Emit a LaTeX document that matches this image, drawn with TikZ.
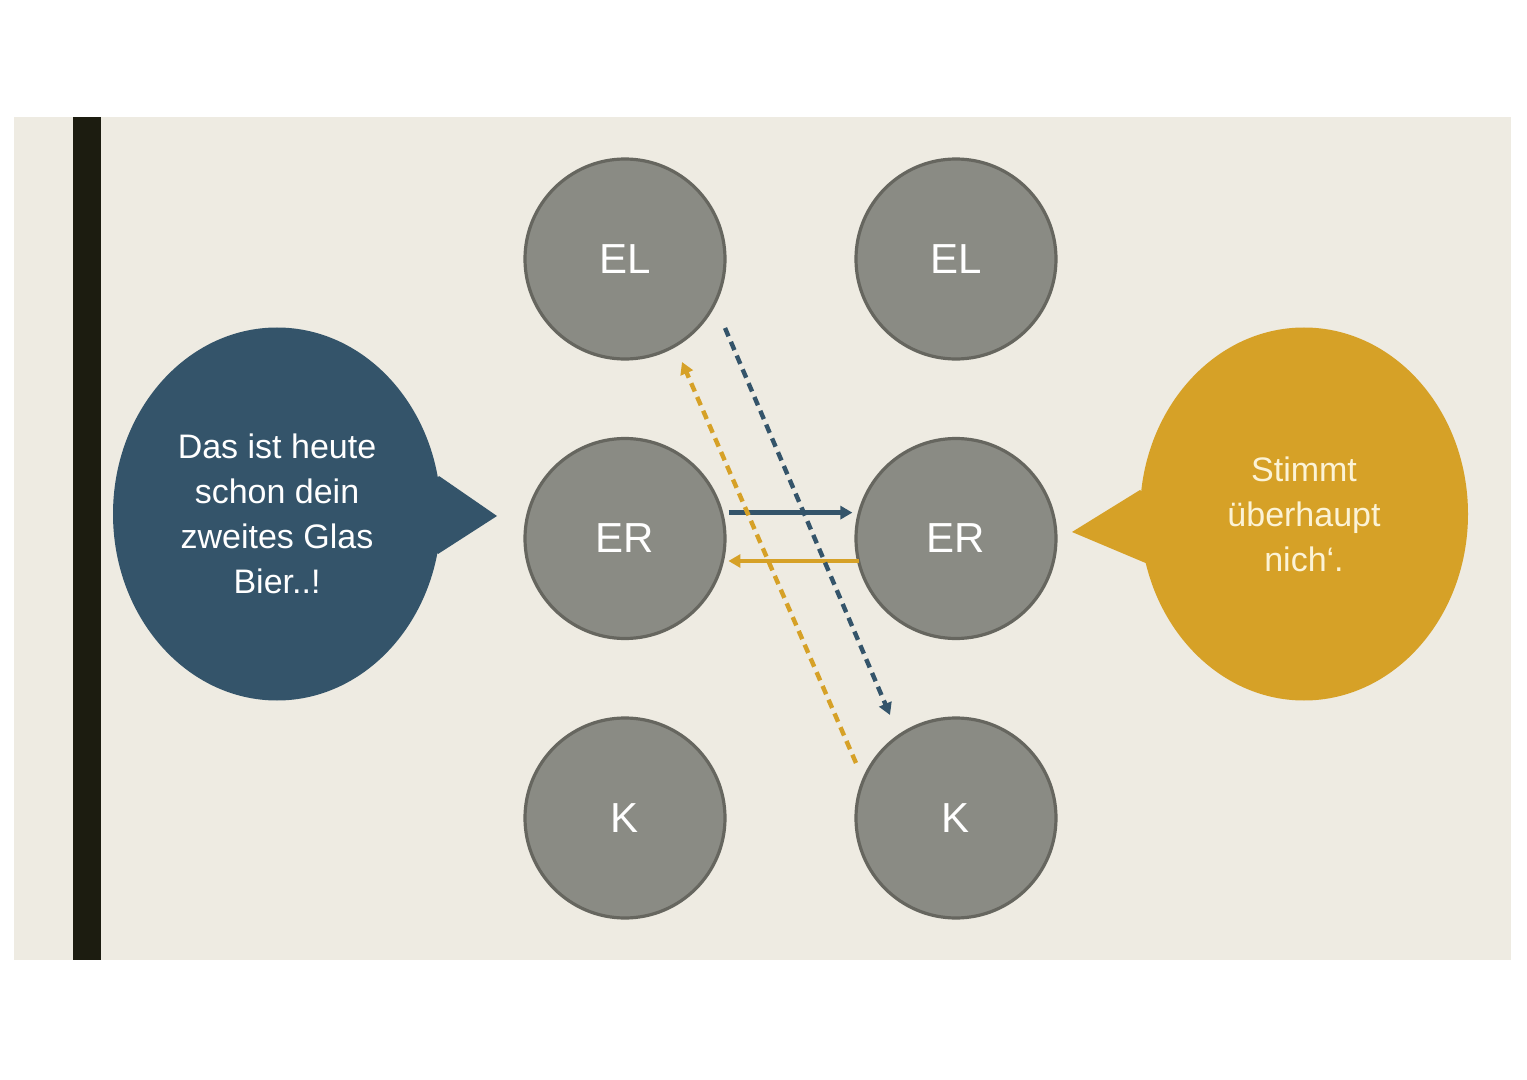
\documentclass[tikz,border=0pt]{standalone}
\usepackage{fontspec}
\setmainfont{Liberation Sans}
\usepackage{tikz}
\usetikzlibrary{shapes.geometric}
\usetikzlibrary{matrix}
\usetikzlibrary{calc}
\usetikzlibrary{arrows.meta}

\definecolor{paper}{HTML}{EEEBE2}
\definecolor{bar}{HTML}{1C1C10}
\definecolor{slate}{HTML}{34546A}
\definecolor{ochre}{HTML}{D6A127}
\definecolor{stone}{HTML}{8A8B84}
\definecolor{stoneline}{HTML}{66665F}
\definecolor{cream}{HTML}{FCF3D6}

\tikzset{
  state/.style={circle, draw=stoneline, line width=1.6pt, fill=stone, text=white,
    minimum size=100pt, inner sep=0pt, outer sep=0pt, font=\fontsize{21}{21}\selectfont},
  bubble/.style={ellipse, minimum width=164pt, minimum height=186.5pt, inner sep=0pt,
    align=center, font=\fontsize{17}{22.5}\selectfont},
  talk/.style={line width=2.2pt, -{Triangle[length=6pt,width=6.5pt]}},
  aside/.style={talk, dash pattern=on 4.5pt off 3pt}
}

\begin{document}
\begin{tikzpicture}[x=0.5pt, y=-0.5pt]
\useasboundingbox (0,0) rectangle (1527,1080);
\fill[white] (0,0) rectangle (1527,1080);
\fill[paper] (14,117) rectangle (1511,960);
\fill[bar] (73,117) rectangle (101,960);

\matrix (p) [matrix of nodes, nodes={state}, column sep=63.9pt, row sep=38.15pt] at (790.5,538.5) {
EL & EL \\
ER & ER \\
K & K \\
};

% speech bubbles
\fill[slate] (439,476) -- (497,516) -- (438,554) -- (400,516) -- cycle;
\node (says) [bubble, fill=slate, text=white] at (277,514) {Das ist heute\\schon dein\\zweites Glas\\Bier..!};
\fill[ochre] (1140,490) -- (1072,532) -- (1148,564) -- (1190,530) -- cycle;
\node (answers) [bubble, fill=ochre, text=cream] at (1304,514) {Stimmt\\überhaupt\\nich‘.};

\draw[talk, slate, shorten <=3.5pt, shorten >=3.5pt] (p-2-1.15) -- (p-2-2.165);
\draw[talk, ochre, shorten >=3pt] (p-2-2.193) -- (p-2-1.-13);

\draw[aside, slate] ($(p-1-1)+(100,69)$) -- ($(p-3-2)+(-66,-103)$);
\draw[aside, ochre] ($(p-3-2)+(-100,-55)$) -- ($(p-1-1)+(57,103)$);

\end{tikzpicture}
\end{document}
